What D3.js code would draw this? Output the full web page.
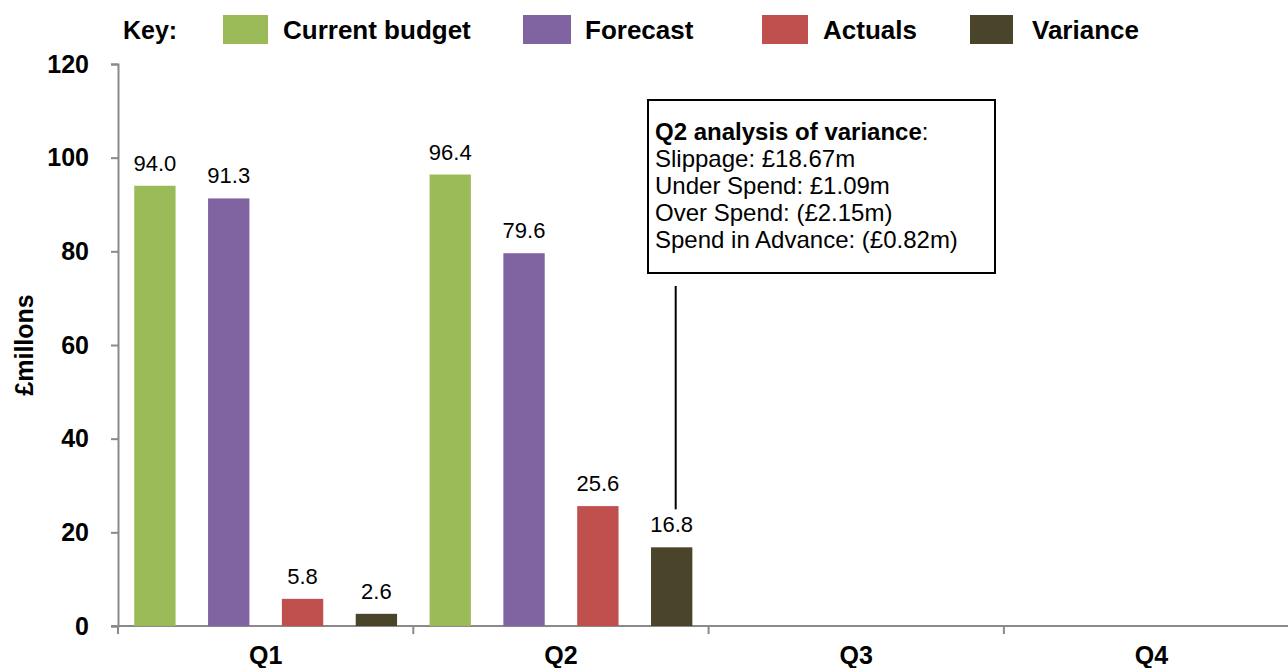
<!DOCTYPE html>
<html>
<head>
<meta charset="utf-8">
<script src="https://cdn.jsdelivr.net/npm/d3@7"></script>
<style>
  body { margin: 0; background: #fff; }
  svg { display: block; font-family: "Liberation Sans", Arial, sans-serif; }
</style>
</head>
<body>
<script>
var quarters = ['Q1', 'Q2', 'Q3', 'Q4'];
var series = ['Current budget', 'Forecast', 'Actuals', 'Variance'];
var colours = ['#9BBB59', '#8064A2', '#C0504D', '#4A452A'];
var budget = [94.0, 96.4, null, null];
var forecast = [91.3, 79.6, null, null];
var actuals = [5.8, 25.6, null, null];
var variance = [2.6, 16.8, null, null];
var yTicks = [0, 20, 40, 60, 80, 100, 120];
var noteTitle = 'Q2 analysis of variance';
var noteLines = ['Slippage: £18.67m', 'Under Spend: £1.09m', 'Over Spend: (£2.15m)', 'Spend in Advance: (£0.82m)'];

var width = 1288,
  height = 668,
  margin = {left: 118, top: 64, bottom: 42},
  bandW = 295.3,
  axisColor = '#8A8A8A';

var svg = d3.select('body').append('svg').attr('width', width).attr('height', height);

var x0 = d3.scaleBand().domain(quarters).range([margin.left, margin.left + bandW * 4]).padding(0);
var x1 = d3.scaleBand().domain(series).range([0, x0.bandwidth()]).paddingInner(0.44).paddingOuter(0.22);
var y = d3.scaleLinear().domain([0, 120]).range([height - margin.bottom, margin.top]);
var colour = d3.scaleOrdinal().domain(series).range(colours);

var rows = [];
quarters.forEach(function(q, i) {
  [budget, forecast, actuals, variance].forEach(function(arr, j) {
    if (arr[i] != null) rows.push({q: q, s: series[j], v: arr[i]});
  });
});

// y axis
var yAxis = svg.append('g')
  .attr('transform', 'translate(' + margin.left + ',0)')
  .call(d3.axisLeft(y).tickValues(yTicks).tickSize(7).tickPadding(22).tickSizeOuter(7));
yAxis.select('.domain').attr('stroke', axisColor).attr('stroke-width', 2);
yAxis.selectAll('.tick line').attr('stroke', axisColor).attr('stroke-width', 2);
yAxis.selectAll('.tick text')
  .attr('fill', '#000')
  .style('font-size', '25px')
  .style('font-weight', 'bold')
  .attr('font-family', null);

svg.append('text')
  .attr('transform', 'translate(33,' + y(60) + ') rotate(-90)')
  .attr('text-anchor', 'middle')
  .style('font-size', '25px')
  .style('font-weight', 'bold')
  .text('£millons');

// x axis
var xAxis = svg.append('g')
  .attr('transform', 'translate(0,' + y(0) + ')');
xAxis.append('line')
  .attr('x1', margin.left - 7).attr('x2', x0.range()[1])
  .attr('stroke', axisColor).attr('stroke-width', 2);
xAxis.selectAll('line.qtick')
  .data(quarters.concat(['end']))
  .enter().append('line')
  .attr('class', 'qtick')
  .attr('x1', function(d) { return d === 'end' ? x0.range()[1] : x0(d); })
  .attr('x2', function(d) { return d === 'end' ? x0.range()[1] : x0(d); })
  .attr('y1', 0).attr('y2', 8)
  .attr('stroke', axisColor).attr('stroke-width', 2);
xAxis.selectAll('text')
  .data(quarters)
  .enter().append('text')
  .attr('x', function(d) { return x0(d) + x0.bandwidth() / 2; })
  .attr('y', 38)
  .attr('text-anchor', 'middle')
  .style('font-size', '25px')
  .style('font-weight', 'bold')
  .text(function(d) { return d; });

// bars
svg.append('g').selectAll('rect')
  .data(rows)
  .enter().append('rect')
  .attr('x', function(d) { return x0(d.q) + x1(d.s); })
  .attr('y', function(d) { return y(d.v); })
  .attr('width', x1.bandwidth())
  .attr('height', function(d) { return y(0) - y(d.v); })
  .attr('fill', function(d) { return colour(d.s); });

svg.append('g').selectAll('text')
  .data(rows)
  .enter().append('text')
  .attr('x', function(d) { return x0(d.q) + x1(d.s) + x1.bandwidth() / 2; })
  .attr('y', function(d) { return y(d.v) - 15; })
  .attr('text-anchor', 'middle')
  .style('font-size', '22px')
  .text(function(d) { return d.v.toFixed(1); });

// legend
var legend = svg.append('g').attr('class', 'legend');
legend.append('text')
  .attr('x', 123).attr('y', 39)
  .style('font-size', '25px').style('font-weight', 'bold')
  .text('Key:');
var legendX = [223, 523, 762, 970];
var legendW = [45, 48, 46, 43];
var legendTextX = [283, 585, 823, 1032];
series.forEach(function(s, i) {
  legend.append('rect')
    .attr('x', legendX[i]).attr('y', 15)
    .attr('width', legendW[i]).attr('height', 29)
    .attr('fill', colour(s));
  legend.append('text')
    .attr('x', legendTextX[i]).attr('y', 39)
    .style('font-size', '26px').style('font-weight', 'bold')
    .text(s);
});

// annotation
var note = svg.append('g').attr('class', 'note');
note.append('rect')
  .attr('x', 648).attr('y', 100)
  .attr('width', 347).attr('height', 173)
  .attr('fill', '#fff')
  .attr('stroke', '#000').attr('stroke-width', 2);
var t = note.append('text').attr('x', 655).attr('y', 140).style('font-size', '24px');
t.append('tspan').style('font-weight', 'bold').text(noteTitle);
t.append('tspan').text(':');
noteLines.forEach(function(l, i) {
  note.append('text')
    .attr('x', 655).attr('y', 167 + i * 27)
    .style('font-size', '24px')
    .text(l);
});
var lineX = x0('Q2') + x1('Variance') + x1.bandwidth() / 2 + 4;
note.append('line')
  .attr('x1', lineX).attr('x2', lineX)
  .attr('y1', 286).attr('y2', y(variance[1]) - 38)
  .attr('stroke', '#000').attr('stroke-width', 2);
</script>
</body>
</html>
